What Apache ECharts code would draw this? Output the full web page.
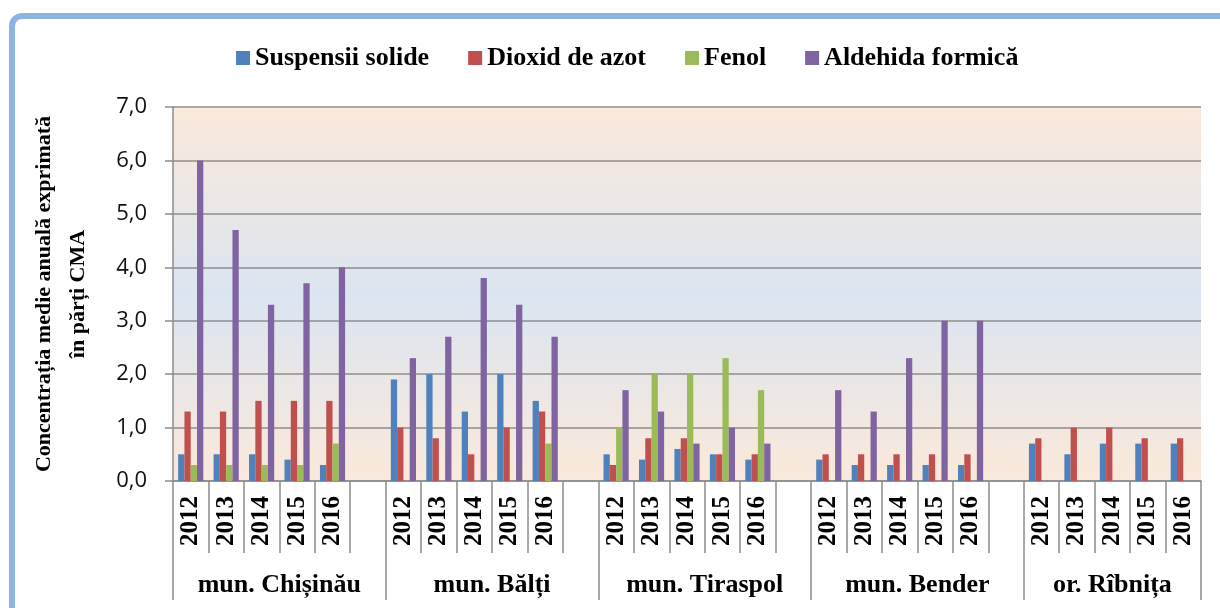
<!DOCTYPE html>
<html>
<head>
<meta charset="utf-8">
<script src="https://cdn.jsdelivr.net/npm/echarts@6/dist/echarts.min.js"></script>
<style>
  html, body { margin: 0; padding: 0; background: #fff; }
  #visualisation { width: 1220px; height: 608px; }
</style>
</head>
<body>
<div id="visualisation"></div>
<script>
// Data
const years = ['2012', '2013', '2014', '2015', '2016'];
const cities = ['mun. Chișinău', 'mun. Bălți', 'mun. Tiraspol', 'mun. Bender', 'or. Rîbnița'];
const seriesNames = ['Suspensii solide', 'Dioxid de azot', 'Fenol', 'Aldehida formică'];
const colors = ['#4F81BD', '#C0504D', '#9BBB59', '#8064A2'];

// 5 years per city, cities in order above
const suspensii = [0.5, 0.5, 0.5, 0.4, 0.3, 1.9, 2.0, 1.3, 2.0, 1.5, 0.5, 0.4, 0.6, 0.5, 0.4, 0.4, 0.3, 0.3, 0.3, 0.3, 0.7, 0.5, 0.7, 0.7, 0.7];
const dioxid = [1.3, 1.3, 1.5, 1.5, 1.5, 1.0, 0.8, 0.5, 1.0, 1.3, 0.3, 0.8, 0.8, 0.5, 0.5, 0.5, 0.5, 0.5, 0.5, 0.5, 0.8, 1.0, 1.0, 0.8, 0.8];
const fenol = [0.3, 0.3, 0.3, 0.3, 0.7, null, null, null, null, 0.7, 1.0, 2.0, 2.0, 2.3, 1.7, null, null, null, null, null, null, null, null, null, null];
const aldehida = [6.0, 4.7, 3.3, 3.7, 4.0, 2.3, 2.7, 3.8, 3.3, 2.7, 1.7, 1.3, 0.7, 1.0, 0.7, 1.7, 1.3, 2.3, 3.0, 3.0, null, null, null, null, null];

const yTicks = [0, 1, 2, 3, 4, 5, 6, 7];

function drawVisualisation() {
  let visualisation = echarts.init(document.getElementById('visualisation'));

  // Categorii: ani per oraș, cu o categorie goală între orașe
  let yearCats = [];
  cities.forEach((c, i) => {
    years.forEach(y => yearCats.push(y));
    if (i < cities.length - 1) yearCats.push('');
  });
  function withGaps(values) {
    let out = [];
    cities.forEach((c, i) => {
      for (let j = 0; j < years.length; j++) out.push(values[i * years.length + j]);
      if (i < cities.length - 1) out.push(null);
    });
    return out;
  }

  // Axa orașelor: jumătăți de categorie, fără boundaryGap
  let half = yearCats.length * 2;
  let cityCats = new Array(half + 1).fill('');
  let cityTicks = {};
  cities.forEach((c, i) => {
    let s = i * (years.length + 1) * 2;
    let e = Math.min(s + (years.length + 1) * 2, half);
    cityTicks[s] = true;
    cityTicks[e] = true;
    cityCats[Math.round((s + e) / 2)] = c;
  });

  const grey = '#8C8C8C';
  const serif = 'Liberation Serif';

  let option = {
    animation: false,
    graphic: [{
      type: 'rect',
      shape: { x: 12, y: 16, width: 1300, height: 700, r: 10 },
      style: { fill: 'none', stroke: '#8EB4E3', lineWidth: 6 },
      z: 100
    }],
    legend: {
      top: 40,
      left: 231,
      icon: 'rect',
      itemWidth: 14,
      itemHeight: 14,
      itemGap: 39,
      textStyle: { fontFamily: serif, fontWeight: 'bold', fontSize: 26, color: '#000' },
      data: seriesNames
    },
    grid: {
      left: 173, right: 19, top: 107, bottom: 127,
      show: true,
      borderWidth: 0,
      backgroundColor: new echarts.graphic.LinearGradient(0, 0, 0, 1, [
        { offset: 0, color: '#FBE9DA' },
        { offset: 0.5, color: '#DBE5F1' },
        { offset: 1, color: '#FBE9DA' }
      ])
    },
    xAxis: [{
      type: 'category',
      data: yearCats,
      boundaryGap: true,
      axisLine: { show: true, lineStyle: { color: grey, width: 1.5 } },
      axisTick: { show: true, interval: 0, length: 72, lineStyle: { color: grey, width: 1.5 } },
      axisLabel: {
        interval: 0, rotate: 90, margin: 15,
        fontFamily: serif, fontWeight: 'bold', fontSize: 25, color: '#000'
      }
    }, {
      type: 'category',
      data: cityCats,
      boundaryGap: false,
      position: 'bottom',
      axisLine: { show: false },
      axisTick: {
        show: true, length: 119,
        interval: (idx) => !!cityTicks[idx],
        lineStyle: { color: grey, width: 1.5 }
      },
      axisLabel: {
        interval: (idx, val) => val !== '',
        margin: 91,
        fontFamily: serif, fontWeight: 'bold', fontSize: 26, color: '#000'
      },
      splitLine: { show: false }
    }],
    yAxis: {
      type: 'value',
      min: yTicks[0],
      max: yTicks[yTicks.length - 1],
      interval: 1,
      name: 'Concentrația medie anuală exprimată\nîn părți CMA',
      nameLocation: 'middle',
      nameRotate: 90,
      nameGap: 78,
      nameTextStyle: { fontFamily: serif, fontWeight: 'bold', fontSize: 22, lineHeight: 34, color: '#000' },
      axisLine: { show: true, lineStyle: { color: grey, width: 1.5 } },
      axisTick: { show: true, length: 8, lineStyle: { color: grey, width: 1.5 } },
      axisLabel: {
        margin: 26,
        formatter: v => v.toFixed(1).replace('.', ','),
        fontFamily: 'Open Sans', fontSize: 22, color: '#111'
      },
      splitLine: { show: true, lineStyle: { color: grey, width: 1.5 } }
    },
    series: [suspensii, dioxid, fenol, aldehida].map((vals, i) => ({
      name: seriesNames[i],
      type: 'bar',
      xAxisIndex: 0,
      data: withGaps(vals),
      barGap: '0%',
      barCategoryGap: '29%',
      itemStyle: { color: colors[i] }
    }))
  };

  visualisation.setOption(option);
}

window.addEventListener('load', drawVisualisation);
</script>
</body>
</html>
